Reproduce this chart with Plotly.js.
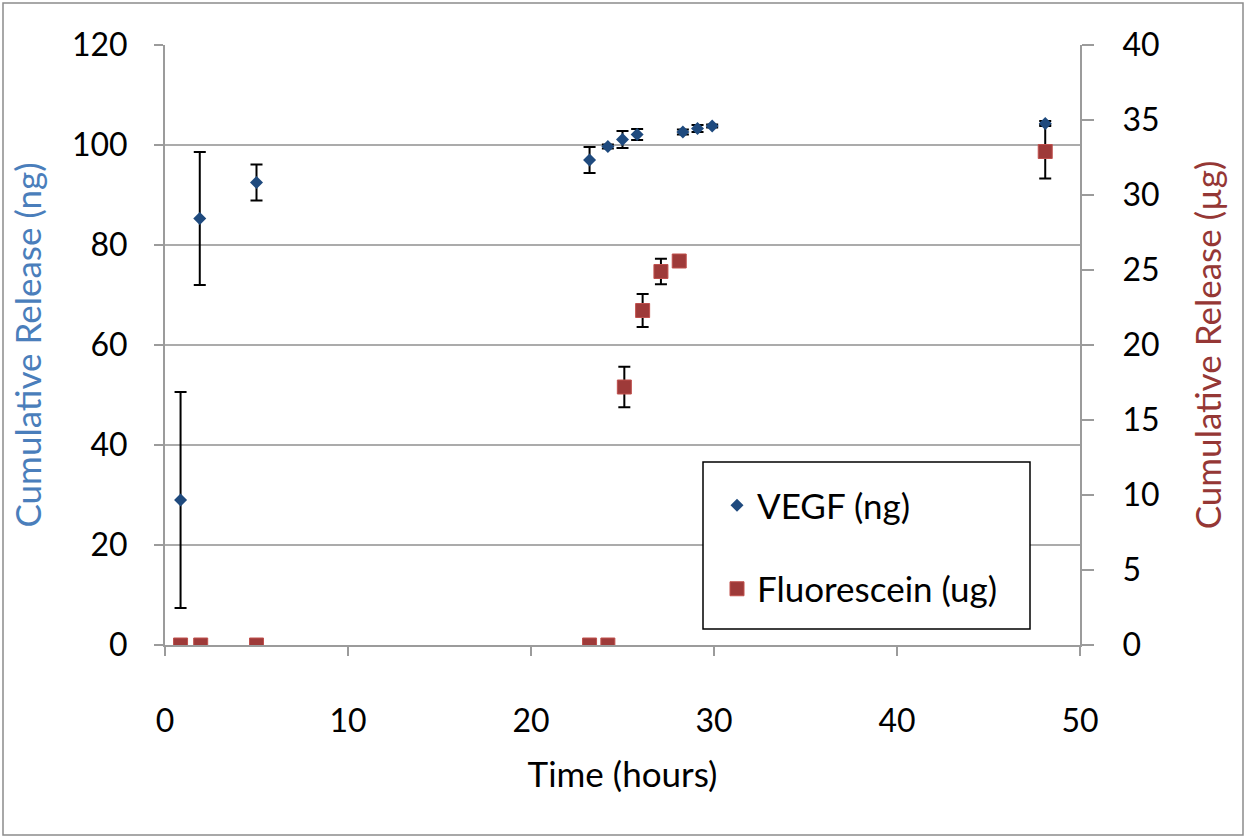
<!DOCTYPE html>
<html>
<head>
<meta charset="utf-8">
<script src="https://cdn.plot.ly/plotly-3.0.1.min.js"></script>
<style>
  html, body { margin: 0; padding: 0; background: #ffffff; }
  #chart { width: 1246px; height: 838px; }
</style>
</head>
<body>
<div id="chart"></div>
<script>
// Cumulative release over time: VEGF (ng, left axis) and fluorescein (µg, right axis)
const vegfTime    = [0.85, 1.9, 5.0, 23.2, 24.2, 25.0, 25.8, 28.3, 29.1, 29.9, 48.1];
const vegfRelease = [29.0, 85.3, 92.5, 97.0, 99.7, 101.1, 102.1, 102.6, 103.3, 103.8, 104.3];
const vegfError   = [21.6, 13.3, 3.6, 2.6, 0.4, 1.7, 1.1, 0.5, 0.7, 0.3, 0.5];

const fluorTime    = [0.85, 1.95, 5.0, 23.2, 24.2, 25.1, 26.1, 27.1, 28.1, 48.1];
const fluorRelease = [0, 0, 0, 0, 0, 17.2, 22.3, 24.9, 25.6, 32.9];
const fluorError   = [0, 0, 0, 0, 0, 1.35, 1.1, 0.85, 0.2, 1.8];

const leftTicks  = [0, 20, 40, 60, 80, 100, 120];
const rightTicks = [0, 5, 10, 15, 20, 25, 30, 35, 40];
const timeTicks  = [0, 10, 20, 30, 40, 50];

const FONT = 'Lato, "Open Sans", sans-serif';
const AXIS_GREY = '#9b9b9b';
const TITLE_SIZE = 35;

const traces = [
  {
    name: 'VEGF (ng)', legendgroup: 'vegf',
    x: vegfTime, y: vegfRelease,
    yaxis: 'y2',
    type: 'scatter', mode: 'markers',
    marker: { symbol: 'diamond', size: 10, color: '#1f4a7e' },
    error_y: { type: 'data', array: vegfError, visible: true,
               color: '#000000', thickness: 2, width: 6 }
  },
  {
    name: 'Fluorescein (ug)', legendgroup: 'fluor',
    x: fluorTime, y: fluorRelease,
    yaxis: 'y',
    type: 'scatter', mode: 'markers',
    marker: { symbol: 'square', size: 14, color: '#9e3a39',
              line: { color: '#c0504d', width: 1 } },
    error_y: { type: 'data', array: fluorError, visible: true,
               color: '#000000', thickness: 2, width: 6 }
  }
];

// paper-space frame around the whole figure
const L = 165, R = 1080, T = 45, B = 645;
const px = v => (v - L) / (R - L);
const py = v => (B - v) / (B - T);

const layout = {
  width: 1246, height: 838,
  margin: { l: L, r: 1246 - R, t: T, b: 838 - B, pad: 0 },
  paper_bgcolor: '#ffffff', plot_bgcolor: '#ffffff',
  font: { family: FONT, size: 32, color: '#000000' },
  showlegend: true,
  legend: {
    x: px(717), y: py(547), xanchor: 'left', yanchor: 'middle',
    bgcolor: 'rgba(0,0,0,0)', borderwidth: 0,
    font: { family: FONT, size: 35, color: '#000000' },
    tracegroupgap: 35
  },
  xaxis: {
    range: [0, 50], tickvals: timeTicks, ticktext: timeTicks.map(String),
    showgrid: false, zeroline: false,
    showline: true, linecolor: AXIS_GREY, linewidth: 2,
    ticks: 'outside', ticklen: 9, tickwidth: 2, tickcolor: AXIS_GREY,
    ticklabelstandoff: 38,
    title: { text: 'Time (hours)', font: { family: FONT, size: TITLE_SIZE, color: '#000000' }, standoff: 24 }
  },
  // fluorescein axis (right)
  yaxis: {
    range: [0, 40], tickvals: rightTicks, ticktext: rightTicks.map(String),
    side: 'right', showgrid: false, zeroline: false,
    showline: true, linecolor: AXIS_GREY, linewidth: 2,
    ticks: 'outside', ticklen: 12, tickwidth: 2, tickcolor: AXIS_GREY,
    ticklabelstandoff: 22,
    title: { text: 'Cumulative Release (µg)', font: { family: FONT, size: TITLE_SIZE, color: '#953735' }, standoff: 38 }
  },
  // VEGF axis (left), drawn over the fluorescein subplot
  yaxis2: {
    range: [0, 120], tickvals: leftTicks, ticktext: leftTicks.map(String),
    side: 'left', overlaying: 'y',
    showgrid: true, gridcolor: '#ababab', gridwidth: 2, zeroline: false,
    showline: true, linecolor: AXIS_GREY, linewidth: 2,
    ticks: 'outside', ticklen: 9, tickwidth: 2, tickcolor: AXIS_GREY,
    ticklabelstandoff: 20,
    title: { text: 'Cumulative Release (ng)', font: { family: FONT, size: TITLE_SIZE, color: '#4a7ebb' }, standoff: 20 }
  },
  shapes: [
    // legend box
    { type: 'rect', xref: 'paper', yref: 'paper', layer: 'above',
      x0: px(703), x1: px(1030), y0: py(629), y1: py(462),
      fillcolor: '#ffffff', line: { color: '#000000', width: 1.5 } },
    // figure frame
    { type: 'rect', xref: 'paper', yref: 'paper', layer: 'above',
      x0: px(3), x1: px(1243), y0: py(835), y1: py(3),
      fillcolor: 'rgba(0,0,0,0)', line: { color: '#8c8c8c', width: 1.5 } }
  ]
};

Plotly.newPlot('chart', traces, layout, { displayModeBar: false, staticPlot: true });
</script>
</body>
</html>
